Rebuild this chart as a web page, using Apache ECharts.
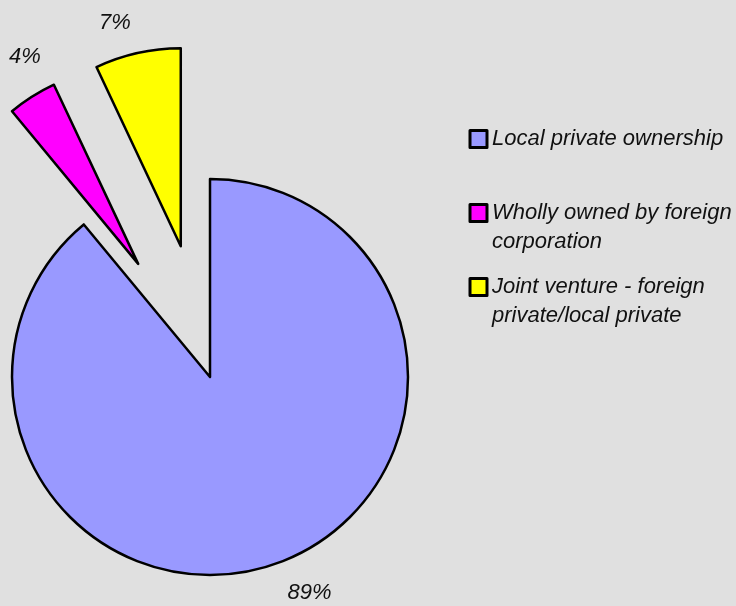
<!DOCTYPE html>
<html>
<head>
<meta charset="utf-8">
<script src="https://cdn.jsdelivr.net/npm/echarts@6/dist/echarts.min.js"></script>
<style>
  html, body { margin: 0; padding: 0; background: #e0e0e0; }
  #chart { width: 736px; height: 606px; }
</style>
</head>
<body>
<div id="chart"></div>
<script>
// Data
const categories = ['Local private ownership', 'Wholly owned by foreign corporation', 'Joint venture - foreign private/local private'];
const legendLabels = ['Local private ownership', 'Wholly owned by foreign\ncorporation', 'Joint venture - foreign\nprivate/local private'];
const values = [89, 4, 7];
const exploded = [false, true, true];
const colors = ['#9999FF', '#FF00FF', '#FFFF00'];

const chart = echarts.init(document.getElementById('chart'), null, { renderer: 'canvas' });

const FONT = 'Liberation Sans, Arial, sans-serif';
const LH = 29;

// per-slice label tweaks (label placement only)
const labelTweaks = [
  { len: 31, dist: 0 },
  { len: 47, dist: -34 },
  { len: 31, dist: 0 }
];

const option = {
  animation: false,
  backgroundColor: '#e0e0e0',
  legend: {
    orient: 'vertical',
    left: 468.5,
    top: 95.5,
    padding: 0,
    itemGap: -13,
    itemWidth: 17,
    itemHeight: 17,
    icon: 'rect',
    selectedMode: false,
    itemStyle: { borderColor: '#000', borderWidth: 3 },
    formatter: function (name) {
      const t = legendLabels[categories.indexOf(name)];
      return t.indexOf('\n') >= 0 ? '\n' + t : '\n' + t + '\n';
    },
    textStyle: { fontFamily: FONT, fontStyle: 'italic', fontSize: 22, color: '#111', lineHeight: LH },
    data: categories
  },
  series: [{
    type: 'pie',
    center: [210, 377],
    radius: 198,
    startAngle: 90,
    clockwise: true,
    selectedMode: 'multiple',
    selectedOffset: 134,
    avoidLabelOverlap: false,
    emphasis: { disabled: true },
    itemStyle: { borderColor: '#000', borderWidth: 2.5 },
    label: {
      show: true,
      position: 'outside',
      formatter: function (p) { return p.value + '%'; },
      fontFamily: FONT,
      fontStyle: 'italic',
      fontSize: 22,
      color: '#111',
      distanceToLabelLine: 0
    },
    labelLine: { show: false, length: 31, length2: 0 },
    data: categories.map(function (c, i) {
      return {
        name: c,
        value: values[i],
        selected: exploded[i],
        itemStyle: { color: colors[i] },
        label: { distanceToLabelLine: labelTweaks[i].dist },
        labelLine: { show: false, length: labelTweaks[i].len, length2: 0 },
        select: { itemStyle: { color: colors[i], borderColor: '#000', borderWidth: 2.5 } }
      };
    })
  }]
};
chart.setOption(option);
</script>
</body>
</html>
